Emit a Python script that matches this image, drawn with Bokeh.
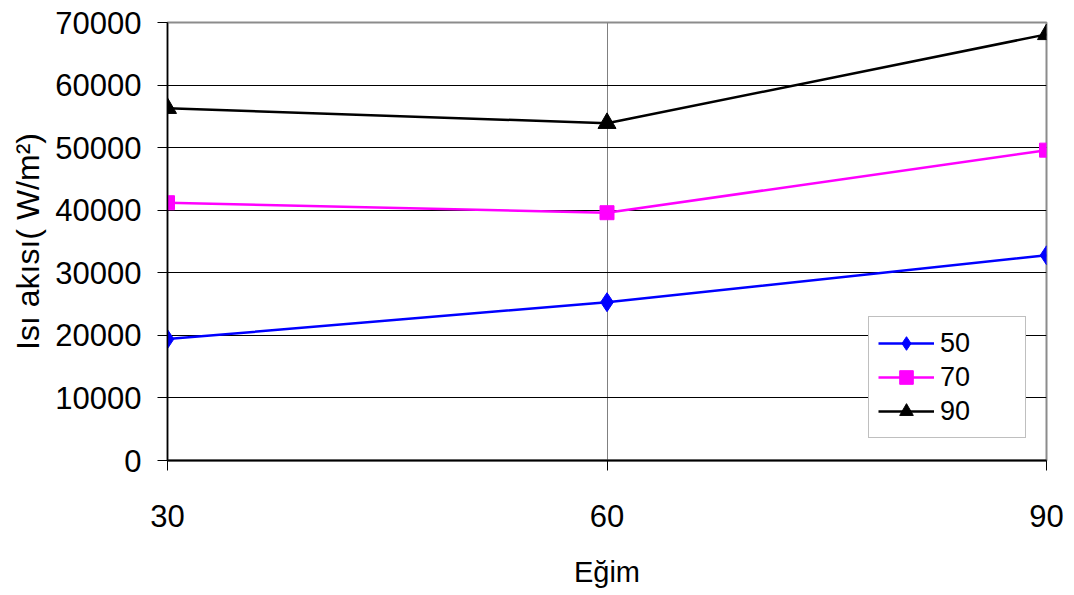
from bokeh.plotting import figure
from bokeh.models import FixedTicker, BasicTickFormatter, Legend, LegendItem, Range1d
from bokeh.embed import file_html
from bokeh.resources import INLINE

# Data
egim = [30, 60, 90]
s50 = [19400, 25300, 32800]
s70 = [41200, 39600, 49600]
s90 = [56300, 53900, 68100]
series_names = ["50", "70", "90"]
y_ticks = [0, 10000, 20000, 30000, 40000, 50000, 60000, 70000]

FONT = "Liberation Sans"

p = figure(width=1066, height=590, output_backend="svg", toolbar_location=None,
           x_range=Range1d(30, 90), y_range=Range1d(0, 70000),
           min_border_left=167, min_border_right=20, min_border_top=22, min_border_bottom=128)

p.outline_line_color = "#8c8c8c"
p.outline_line_width = 2
p.background_fill_color = "white"
p.border_fill_color = "white"

# axes
p.xaxis.ticker = FixedTicker(ticks=egim)
p.yaxis.ticker = FixedTicker(ticks=y_ticks)
p.yaxis.formatter = BasicTickFormatter(use_scientific=False)
for ax in (p.xaxis, p.yaxis):
    ax.major_label_text_font = FONT
    ax.major_label_text_font_size = "31px"
    ax.major_label_text_color = "black"
    ax.major_tick_in = 0
    ax.major_tick_out = 10
    ax.major_tick_line_color = "black"
    ax.minor_tick_line_color = None
    ax.axis_line_color = "black"
    ax.axis_label_text_font = FONT
    ax.axis_label_text_font_style = "normal"
    ax.axis_label_text_color = "black"
p.xaxis.axis_label_text_font_size = "29px"
p.yaxis.axis_label_text_font_size = "32px"
p.xaxis.axis_line_width = 2
p.yaxis.axis_line_width = 1.5
p.xaxis.major_label_standoff = 34
p.yaxis.major_label_standoff = 16
p.xaxis.axis_label = "Eğim"
p.yaxis.axis_label = "Isı akısı( W/m²)"
p.xaxis.axis_label_standoff = 26
p.yaxis.axis_label_standoff = 6

# grids
p.ygrid.ticker = FixedTicker(ticks=y_ticks)
p.ygrid.grid_line_color = "black"
p.ygrid.grid_line_width = 1
p.xgrid.ticker = FixedTicker(ticks=egim)
p.xgrid.grid_line_color = "#808080"
p.xgrid.grid_line_width = 1

# series
l1 = p.line(egim, s50, line_color="#0000ff", line_width=2.5)
m1 = p.scatter(egim, s50, marker="diamond", size=19,
               fill_color="#0000ff", line_color="#0000ff")
l2 = p.line(egim, s70, line_color="#ff00ff", line_width=2.5)
m2 = p.scatter(egim, s70, marker="square", size=14, fill_color="#ff00ff", line_color="#ff00ff")
l3 = p.line(egim, s90, line_color="black", line_width=2.5)
m3 = p.scatter(egim, s90, marker="triangle", size=18, fill_color="black", line_color="black")

legend = Legend(items=[
    LegendItem(label=series_names[0], renderers=[l1, m1]),
    LegendItem(label=series_names[1], renderers=[l2, m2]),
    LegendItem(label=series_names[2], renderers=[l3, m3]),
], location=(701, 22))
legend.label_text_font = FONT
legend.label_text_font_size = "27px"
legend.label_text_color = "black"
legend.glyph_width = 56
legend.glyph_height = 34
legend.label_height = 34
legend.label_width = 76
legend.label_standoff = 6
legend.spacing = 0
legend.padding = 9
legend.margin = 0
legend.border_line_color = "#808080"
legend.border_line_width = 1.5
legend.background_fill_color = "white"
legend.background_fill_alpha = 1
p.add_layout(legend, "center")

open("out.html", "w").write(file_html(p, INLINE))
